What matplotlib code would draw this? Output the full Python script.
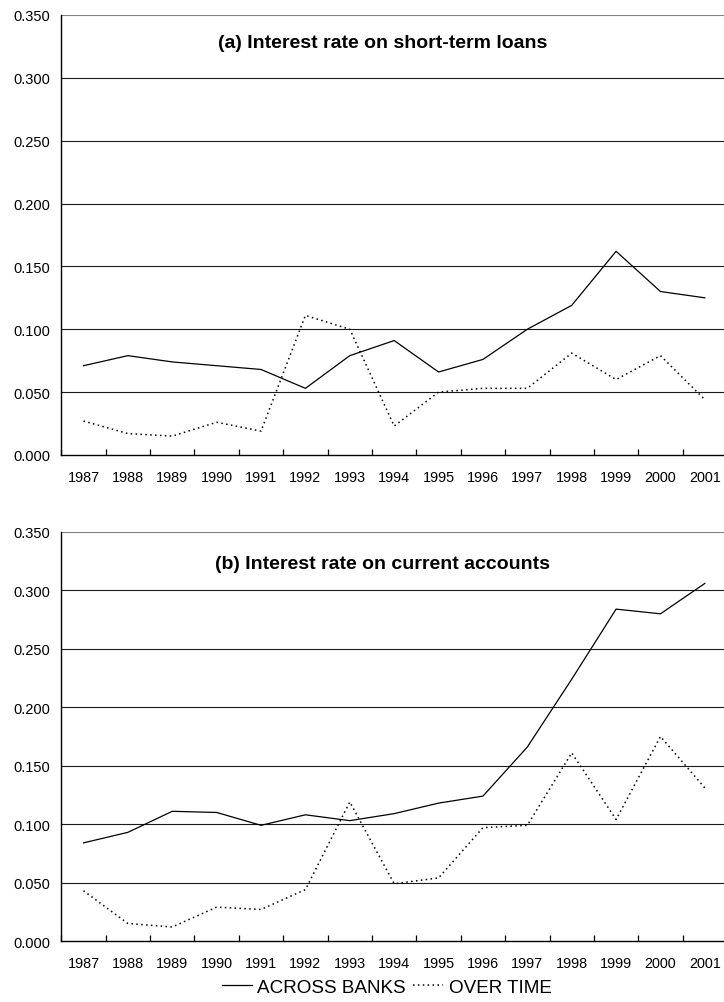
import matplotlib
matplotlib.use('Agg')
import matplotlib.pyplot as plt
import numpy as np
from matplotlib.ticker import FormatStrFormatter, FixedLocator

plt.rcParams['font.family'] = ['Liberation Sans', 'DejaVu Sans']

years = [str(y) for y in range(1987, 2002)]

# (a) short-term loans
loans_across = [0.071, 0.079, 0.074, 0.071, 0.068, 0.053, 0.079, 0.091,
                0.066, 0.076, 0.100, 0.119, 0.162, 0.130, 0.125]
loans_time = [0.027, 0.017, 0.015, 0.026, 0.019, 0.111, 0.100, 0.023,
              0.050, 0.053, 0.053, 0.081, 0.060, 0.079, 0.044]

# (b) current accounts
curr_across = [0.084, 0.093, 0.111, 0.110, 0.099, 0.108, 0.103, 0.109,
               0.118, 0.124, 0.166, 0.224, 0.284, 0.280, 0.306]
curr_time = [0.043, 0.015, 0.012, 0.029, 0.027, 0.044, 0.119, 0.049,
             0.054, 0.097, 0.099, 0.161, 0.104, 0.175, 0.131]

titles = ['(a) Interest rate on short-term loans',
          '(b) Interest rate on current accounts']

fig = plt.figure(figsize=(7.24, 10.03), dpi=100)
ax1 = fig.add_axes([0.0847, 0.5454, 0.9195, 0.4387])
ax2 = fig.add_axes([0.0847, 0.0608, 0.9195, 0.4078])

x = np.arange(len(years))
panels = [(ax1, loans_across, loans_time, titles[0], 0.4826, 0.938),
          (ax2, curr_across, curr_time, titles[1], 0.4826, 0.9225)]

for ax, across, overtime, title, tx, ty in panels:
    ax.set_xlim(-0.5, len(years) - 0.5)
    ax.set_ylim(0, 0.35)
    ax.set_yticks(np.arange(0, 0.351, 0.05))
    ax.yaxis.set_major_formatter(FormatStrFormatter('%.3f'))
    for v in np.arange(0.05, 0.351, 0.05):
        ax.axhline(v, color='#1a1a1a' if v < 0.34 else '#808080', lw=0.8, zorder=1)
    ax.plot(x, across, color='black', lw=0.9, label='ACROSS BANKS', zorder=3)
    ax.plot(x, overtime, color='black', lw=1.1, dashes=(1, 2.2),
            label='OVER TIME', zorder=3)
    ax.set_xticks(x)
    ax.set_xticklabels(years)
    ax.xaxis.set_minor_locator(FixedLocator(np.arange(-0.5, len(years), 1.0)))
    ax.tick_params(axis='x', which='major', length=0, pad=11, labelsize=10.4)
    ax.tick_params(axis='x', which='minor', direction='in', length=4, width=0.9)
    ax.tick_params(axis='y', length=0, pad=8, labelsize=10.5)
    for s in ['top', 'right']:
        ax.spines[s].set_visible(False)
    ax.spines['left'].set_linewidth(1.0)
    ax.spines['bottom'].set_linewidth(1.0)
    ax.text(tx, ty, title, transform=ax.transAxes, ha='center', va='center',
            fontsize=14, fontweight='bold')

handles, labels = ax2.get_legend_handles_labels()
fig.legend(handles, labels, loc='center', bbox_to_anchor=(0.534, 0.015),
           ncol=2, frameon=False, fontsize=13.6, handlelength=1.6,
           handletextpad=0.28, columnspacing=0.4, borderpad=0, borderaxespad=0)

fig.savefig('out.png', dpi=100)
